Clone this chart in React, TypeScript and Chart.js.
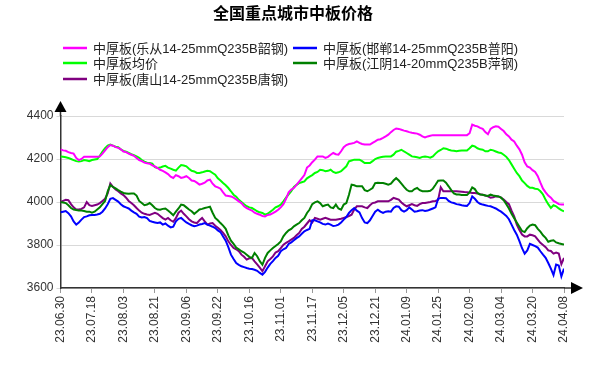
import React, { useEffect, useRef } from 'react';
import { Chart, registerables } from 'chart.js';

Chart.register(...registerables);

const title = '全国重点城市中板价格';

const tickLabels = [
  '23.06.30', '23.07.18', '23.08.03', '23.08.21', '23.09.06', '23.09.22',
  '23.10.16', '23.11.01', '23.11.17', '23.12.05', '23.12.21', '24.01.09',
  '24.01.25', '24.02.09', '24.03.04', '24.03.20', '24.04.08',
];

const seriesNames = [
  '中厚板(乐从14-25mmQ235B韶钢)',
  '中厚板(邯郸14-25mmQ235B普阳)',
  '中厚板均价',
  '中厚板(江阴14-20mmQ235B萍钢)',
  '中厚板(唐山14-25mmQ235B唐钢)',
];

const seriesColors = ['#ff00ff', '#0000ff', '#00ff00', '#008000', '#800080'];

const lecong = [
  4245, 4240, 4238, 4232, 4228, 4225, 4205, 4195, 4200, 4210, 4210, 4210,
  4210, 4210, 4210, 4212, 4225, 4240, 4255, 4265, 4262, 4255, 4252, 4245,
  4235, 4232, 4225, 4220, 4215, 4205, 4195, 4190, 4183, 4180, 4178, 4170,
  4165, 4158, 4150, 4145, 4138, 4130, 4118, 4112, 4125, 4120, 4112, 4115,
  4120, 4112, 4100, 4098, 4090, 4081, 4085, 4090, 4100, 4104, 4085, 4073,
  4068, 4062, 4045, 4030, 4028, 4026, 4020, 4012, 4003, 3995, 3980, 3972,
  3966, 3960, 3950, 3945, 3941, 3935, 3933, 3940, 3942, 3948, 3955, 3964,
  3975, 3990, 4015, 4045, 4058, 4065, 4080, 4095, 4110, 4125, 4160, 4170,
  4185, 4197, 4212, 4212, 4212, 4205, 4210, 4220, 4228, 4222, 4220, 4236,
  4255, 4265, 4270, 4272, 4275, 4282, 4275, 4270, 4267, 4267, 4267, 4275,
  4282, 4290, 4292, 4298, 4305, 4313, 4325, 4335, 4342, 4340, 4336, 4332,
  4329, 4325, 4322, 4320, 4318, 4313, 4305, 4300, 4305, 4308, 4311, 4311,
  4311, 4311, 4311, 4311, 4311, 4311, 4311, 4311, 4311, 4311, 4311, 4311,
  4320, 4360, 4355, 4352, 4345, 4340, 4325, 4315, 4340, 4348, 4352, 4350,
  4340, 4330, 4315, 4305, 4290, 4282, 4262, 4245, 4220, 4185, 4165, 4160,
  4148, 4140, 4120, 4090, 4062, 4045, 4030, 4020, 4005, 3998, 3990, 3988,
  3988,
];

const handan = [
  3952, 3955, 3958, 3948, 3933, 3910, 3895, 3905, 3918, 3930, 3933, 3938,
  3940, 3940, 3942, 3945, 3955, 3970, 3990, 4015, 4018, 4010, 4002, 3990,
  3980, 3975, 3970, 3960, 3952, 3945, 3932, 3928, 3930, 3925, 3912, 3908,
  3905, 3902, 3905, 3895, 3900, 3890, 3882, 3885, 3910, 3922, 3926, 3915,
  3905, 3898, 3892, 3887, 3890, 3895, 3898, 3902, 3895, 3890, 3885, 3879,
  3868, 3860, 3840, 3820, 3790, 3755, 3735, 3716, 3708, 3701, 3697, 3693,
  3690, 3688, 3685, 3680, 3670, 3662, 3675, 3695, 3712, 3725, 3740, 3750,
  3771, 3780, 3786, 3805, 3812, 3822, 3832, 3840, 3852, 3864, 3870, 3875,
  3915, 3915, 3910, 3905, 3898, 3895, 3900, 3895, 3888, 3890, 3895, 3905,
  3918, 3930, 3949, 3962, 3972, 3960, 3952, 3925, 3905, 3902, 3915, 3935,
  3955, 3964, 3955, 3949, 3955, 3957, 3955, 3972, 3980, 3978, 3962, 3955,
  3962, 3975, 3965, 3955, 3957, 3960, 3962, 3958, 3960, 3965, 3970, 3975,
  4015, 4019, 4019, 4018, 4005, 3998, 3995, 3990, 3988, 3985, 3983, 3982,
  3995, 4026, 4015, 4000, 3992, 3988, 3985, 3982, 3980, 3975, 3970, 3962,
  3955, 3945, 3935, 3920, 3895, 3870, 3848, 3818, 3785, 3760, 3775, 3805,
  3800, 3795, 3788, 3771, 3755, 3740, 3716, 3690, 3660, 3709, 3705, 3654,
  3690,
];

const average = [
  4212, 4210, 4208, 4205, 4200, 4195, 4190, 4188, 4190, 4195, 4193, 4190,
  4195, 4198, 4200, 4215, 4234, 4250, 4262, 4267, 4262, 4257, 4255, 4245,
  4238, 4234, 4228, 4222, 4218, 4212, 4205, 4195, 4188, 4183, 4181, 4178,
  4162, 4158, 4160, 4165, 4168, 4160, 4155, 4150, 4146, 4160, 4172, 4170,
  4166, 4155, 4145, 4142, 4135, 4135, 4138, 4142, 4145, 4143, 4135, 4127,
  4110, 4100, 4088, 4078, 4065, 4050, 4034, 4025, 4010, 4000, 3990, 3980,
  3975, 3972, 3965, 3957, 3952, 3949, 3941, 3945, 3955, 3964, 3975, 3980,
  3988, 4003, 4020, 4035, 4050, 4070, 4080, 4088, 4092, 4096, 4110, 4118,
  4125, 4135, 4140, 4150, 4148, 4143, 4145, 4150, 4140, 4135, 4138, 4143,
  4155, 4166, 4189, 4193, 4197, 4197, 4197, 4190, 4181, 4181, 4181, 4190,
  4200, 4205, 4208, 4210, 4212, 4212, 4212, 4220, 4234, 4238, 4243, 4235,
  4228, 4220, 4212, 4210, 4208, 4205, 4210, 4212, 4210, 4206, 4212, 4225,
  4236, 4242, 4250, 4248, 4243, 4240, 4238, 4236, 4238, 4240, 4240, 4240,
  4250, 4262, 4258, 4250, 4245, 4243, 4236, 4236, 4243, 4240, 4235, 4230,
  4228, 4220, 4210, 4195, 4175, 4155, 4135, 4120, 4100, 4088, 4075, 4066,
  4066, 4062, 4060, 4050, 4035, 4010, 3990, 3972, 3985, 3980, 3970, 3962,
  3957,
];

const jiangyin = [
  4000, 3998, 3995, 3985, 3972, 3965, 3963, 3960, 3960, 3958, 3955, 3955,
  3950, 3955, 3965, 3975, 3990, 4005, 4050, 4079, 4070, 4063, 4055, 4048,
  4042, 4040, 4038, 4040, 4040, 4030, 4005, 3995, 3985, 3988, 3995, 3985,
  3972, 3965, 3964, 3968, 3970, 3960, 3950, 3938, 3955, 3970, 3988, 3985,
  3975, 3965, 3957, 3945, 3955, 3965, 3968, 3972, 3975, 3978, 3950, 3926,
  3915, 3902, 3890, 3875, 3845, 3820, 3805, 3788, 3780, 3771, 3765, 3755,
  3745, 3740, 3763, 3748, 3725, 3708, 3740, 3763, 3775, 3786, 3795, 3805,
  3817, 3840, 3856, 3868, 3875, 3887, 3895, 3902, 3915, 3926, 3949, 3965,
  3990, 3998, 4003, 3995, 3980, 3985, 3988, 3975, 3972, 3988, 3970, 3964,
  3988, 3995, 4034, 4081, 4078, 4073, 4073, 4073, 4055, 4050, 4057, 4065,
  4088, 4090, 4088, 4088, 4085, 4081, 4085, 4100, 4111, 4100, 4085, 4070,
  4057, 4050, 4050, 4060, 4065, 4055, 4050, 4050, 4050, 4052, 4062, 4080,
  4099, 4100, 4100, 4090, 4073, 4055, 4040, 4035, 4035, 4033, 4032, 4032,
  4045, 4068, 4060, 4042, 4035, 4034, 4030, 4028, 4034, 4030, 4028, 4026,
  4020, 4008, 3990, 3970, 3945, 3925, 3905, 3885, 3865, 3860, 3878, 3890,
  3895, 3892, 3875, 3862, 3845, 3833, 3815, 3820, 3822, 3812, 3808, 3805,
  3802,
];

const tangshan = [
  4000, 4005, 4010, 4008, 3990, 3975, 3965, 3965, 3968, 3975, 4000, 3985,
  3982, 3985, 3988, 3995, 4005, 4015, 4040, 4086, 4070, 4058, 4050, 4040,
  4032, 4020, 4005, 3995, 3985, 3972, 3960, 3950, 3945, 3942, 3940, 3945,
  3950, 3945, 3935, 3925, 3918, 3926, 3915, 3908, 3925, 3950, 3960, 3945,
  3933, 3920, 3910, 3905, 3902, 3915, 3926, 3910, 3895, 3900, 3902, 3890,
  3880, 3870, 3856, 3840, 3817, 3800, 3786, 3780, 3771, 3755, 3745, 3732,
  3738, 3740, 3724, 3710, 3695, 3678, 3701, 3724, 3735, 3747, 3765, 3771,
  3786, 3801, 3810, 3817, 3825, 3833, 3845, 3856, 3875, 3885, 3900, 3915,
  3905, 3926, 3922, 3918, 3922, 3926, 3922, 3918, 3918, 3918, 3920, 3922,
  3926, 3930, 3935, 3941, 3965, 3980, 3980, 3980, 3975, 3972, 3985, 3995,
  3998, 4003, 4003, 4003, 4003, 4003, 4010, 4019, 4015, 4011, 3998, 3988,
  3980, 3985, 3990, 3985, 3982, 3990, 3995, 3995, 3998, 4000, 4003, 4005,
  4010, 4068, 4050, 4050, 4050, 4050, 4050, 4050, 4049, 4048, 4046, 4045,
  4044, 4042, 4042, 4040, 4036, 4034, 4030, 4026, 4020, 4022, 4026, 4026,
  4020, 4012, 4000, 3990, 3960, 3933, 3895, 3870, 3849, 3840, 3840, 3848,
  3845, 3840, 3825, 3810, 3800, 3790, 3775, 3772, 3760, 3765, 3760, 3711,
  3740,
];

const seriesValues = [lecong, handan, average, jiangyin, tangshan];
const indexLabels = lecong.map((_, i) => i);

const FONT = "'Liberation Sans', Arial, 'Noto Sans CJK SC', sans-serif";

const decorPlugin = {
  id: 'decor',
  afterDraw(chart: any) {
    const { ctx, chartArea } = chart;
    const { left, right, top, bottom } = chartArea;
    ctx.save();
    // title
    ctx.fillStyle = '#000';
    ctx.font = `bold 16px ${FONT}`;
    ctx.textAlign = 'center';
    ctx.textBaseline = 'middle';
    ctx.fillText(title, 293, 15);

    // legend (two columns)
    const slots = [
      { x: 63, y: 48 },
      { x: 293, y: 48 },
      { x: 63, y: 63 },
      { x: 293, y: 63 },
      { x: 63, y: 79 },
    ];
    ctx.font = `13px ${FONT}`;
    ctx.textAlign = 'left';
    seriesNames.forEach((name, k) => {
      const s = slots[k];
      ctx.strokeStyle = seriesColors[k];
      ctx.lineWidth = 2.5;
      ctx.beginPath();
      ctx.moveTo(s.x, s.y);
      ctx.lineTo(s.x + 24, s.y);
      ctx.stroke();
      ctx.fillStyle = '#222';
      ctx.fillText(name, s.x + 30, s.y + 1);
    });

    // axis arrows
    ctx.strokeStyle = '#333';
    ctx.fillStyle = '#000';
    ctx.lineWidth = 1.5;
    ctx.beginPath();
    ctx.moveTo(left, top);
    ctx.lineTo(left, 110);
    ctx.moveTo(right, bottom);
    ctx.lineTo(572, bottom);
    ctx.stroke();
    ctx.beginPath();
    ctx.moveTo(left, 101);
    ctx.lineTo(left - 6, 112);
    ctx.lineTo(left + 6, 112);
    ctx.closePath();
    ctx.fill();
    ctx.beginPath();
    ctx.moveTo(583, bottom);
    ctx.lineTo(571, bottom - 6);
    ctx.lineTo(571, bottom + 6);
    ctx.closePath();
    ctx.fill();
    ctx.restore();
  },
};

export default function App() {
  const ref = useRef<HTMLCanvasElement | null>(null);

  useEffect(() => {
    if (!ref.current) return;
    Chart.defaults.font.family = FONT;
    const chart = new Chart(ref.current, {
      type: 'line',
      data: {
        labels: indexLabels,
        datasets: seriesNames.map((name, k) => ({
          label: name,
          data: seriesValues[k],
          borderColor: seriesColors[k],
          backgroundColor: seriesColors[k],
          borderWidth: 2,
          pointRadius: 0,
          tension: 0,
          fill: false,
        })),
      },
      options: {
        responsive: false,
        animation: false,
        layout: { padding: { left: 8, right: 27, top: 116, bottom: 0 } },
        plugins: {
          legend: { display: false },
          title: { display: false },
          tooltip: { enabled: false },
        },
        scales: {
          x: {
            type: 'linear',
            min: 0,
            max: 192,
            afterFit: (s: any) => {
              s.height = 83;
            },
            ticks: {
              stepSize: 12,
              autoSkip: false,
              maxRotation: 90,
              minRotation: 90,
              color: '#333',
              font: { size: 12, family: FONT },
              padding: 3,
              callback: (v: any) => {
                const n = Number(v);
                return n % 12 === 0 ? tickLabels[n / 12] ?? '' : '';
              },
            },
            grid: { drawOnChartArea: false, drawTicks: true, tickLength: 5, color: '#999' },
            border: { display: true, color: '#333', width: 1.5 },
          },
          y: {
            min: 3600,
            max: 4400,
            afterFit: (s: any) => {
              s.width = 52.5;
            },
            ticks: {
              stepSize: 200,
              color: '#333',
              font: { size: 12, family: FONT },
              padding: 3,
              callback: (v: any) => String(v),
            },
            grid: { color: '#d9d9d9', tickLength: 4, lineWidth: 1 },
            border: { display: true, color: '#333', width: 1.5 },
          },
        },
      },
      plugins: [decorPlugin],
    });
    return () => chart.destroy();
  }, []);

  return (
    <div style={{ position: 'fixed', left: 0, top: 0, width: 591, height: 371, background: '#fff' }}>
      <canvas ref={ref} width={591} height={371} style={{ display: 'block', width: 591, height: 371 }} />
    </div>
  );
}
